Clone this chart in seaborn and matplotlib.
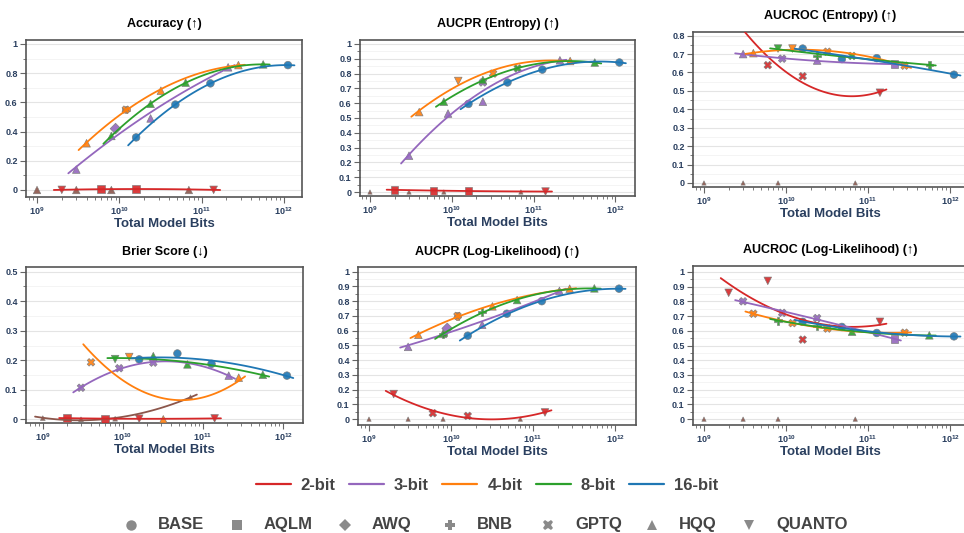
import numpy as np
import pandas as pd
import matplotlib
matplotlib.use("Agg")
import matplotlib.pyplot as plt
import seaborn as sns
from matplotlib.ticker import MultipleLocator, FixedLocator, LogLocator, NullFormatter, FuncFormatter
from matplotlib.lines import Line2D

n = np.nan

# ---- points: model size (billions of params), bit-width, quantisation method ----
params_b = [1, 3, 8, 70,
            1, 1, 3, 3, 3, 8, 8, 8, 70,
            1, 1, 3, 3, 3, 8, 8, 70, 70,
            1, 1, 3, 3, 3, 8, 8, 70, 70,
            1, 1, 1, 3, 3, 8, 8, 70, 70,
            1, 3, 8, 70]
bits = [1] * 4 + [2] * 9 + [3] * 9 + [4] * 9 + [8] * 9 + [16] * 4
methods = (["HQQ"] * 4
           + ["AQLM", "QUANTO", "AQLM", "GPTQ", "QUANTO", "AQLM", "GPTQ", "QUANTO", "QUANTO"]
           + ["HQQ", "GPTQ", "HQQ", "AWQ", "GPTQ", "HQQ", "GPTQ", "HQQ", "AQLM"]
           + ["HQQ", "GPTQ", "BNB", "GPTQ", "QUANTO", "HQQ", "GPTQ", "HQQ", "GPTQ"]
           + ["HQQ", "QUANTO", "BNB", "HQQ", "BNB", "HQQ", "GPTQ", "HQQ", "BNB"]
           + ["BASE"] * 4)

# ---- metric values (NaN = not shown) ----
accuracy = [0, 0, 0, 0,
            n, 0.001, 0.006, n, n, 0.006, n, n, 0.001,
            0.14, n, n, 0.42, n, 0.49, n, 0.84, n,
            0.32, n, 0.55, 0.55, n, 0.68, n, 0.855, n,
            0.37, n, n, 0.59, n, 0.735, n, 0.86, n,
            0.36, 0.585, 0.73, 0.855]
aucpr_entropy = [0, 0, 0, 0,
                 0.015, n, 0.008, n, n, 0.008, n, n, 0.003,
                 0.245, n, 0.53, n, n, 0.61, 0.74, 0.89, n,
                 0.54, n, n, n, 0.75, n, 0.80, 0.885, n,
                 0.61, n, n, 0.757, n, n, 0.835, 0.875, n,
                 0.595, 0.74, 0.827, 0.875]
aucroc_entropy = [0, 0, 0, 0,
                  n, 0.95, n, 0.64, n, n, 0.58, n, 0.49,
                  0.70, n, n, n, 0.675, 0.665, n, n, 0.645,
                  0.705, n, n, n, 0.73, n, 0.713, n, 0.637,
                  n, 0.73, n, n, 0.69, n, 0.69, n, 0.64,
                  0.73, 0.673, 0.678, 0.588]
brier = [0.004, 0.0, 0.002, 0.075,
         0.004, n, 0.002, n, n, n, n, 0.002, 0.003,
         n, 0.107, n, n, 0.173, n, 0.192, 0.148, n,
         n, 0.193, n, n, 0.211, 0.0, n, 0.141, n,
         n, 0.204, n, 0.214, n, 0.186, n, 0.151, n,
         0.203, 0.223, 0.188, 0.148]
aucpr_ll = [0, 0, 0, 0,
            n, 0.17, n, 0.04, n, n, 0.022, n, 0.045,
            0.49, n, n, 0.615, n, 0.64, n, 0.87, n,
            0.572, n, 0.70, 0.70, n, 0.765, n, 0.885, n,
            0.58, n, 0.575, n, 0.726, 0.808, n, 0.887, n,
            0.566, 0.715, 0.80, 0.885]
aucroc_ll = [0, 0, 0, 0,
             n, 0.858, n, n, 0.939, n, 0.54, n, 0.661,
             n, 0.80, n, n, 0.722, n, 0.686, n, 0.544,
             n, 0.716, n, 0.652, n, n, 0.615, n, 0.587,
             n, n, 0.668, n, 0.634, 0.594, n, 0.569, n,
             0.661, 0.626, 0.585, 0.562]

titles = ["Accuracy (↑)", "AUCPR (Entropy) (↑)", "AUCROC (Entropy) (↑)",
          "Brier Score (↓)", "AUCPR (Log-Likelihood) (↑)", "AUCROC (Log-Likelihood) (↑)"]
bit_labels = ["2-bit", "3-bit", "4-bit", "8-bit", "16-bit"]
method_names = ["BASE", "AQLM", "AWQ", "BNB", "GPTQ", "HQQ", "QUANTO"]

# ---- style ----
sns.set_theme(style="white")
plt.rcParams["font.family"] = ["Liberation Sans", "DejaVu Sans"]
plt.rcParams["font.weight"] = "bold"
plt.rcParams["mathtext.fontset"] = "custom"
plt.rcParams["mathtext.rm"] = "Liberation Sans:bold"
plt.rcParams["mathtext.bf"] = "Liberation Sans:bold"
plt.rcParams["mathtext.default"] = "bf"

palette = {1: "#8c564b", 2: "#d62728", 3: "#9467bd", 4: "#ff7f0e", 8: "#2ca02c", 16: "#1f77b4"}
marker_map = {"BASE": "o", "AQLM": "s", "AWQ": "D", "BNB": "P", "GPTQ": "X", "HQQ": "^", "QUANTO": "v"}
label_col = "#2a3f5f"

df = pd.DataFrame({"params": np.array(params_b) * 1e9, "bits": bits, "method": methods})
df["total_bits"] = df["params"] * df["bits"]

W, H = 964, 533
def rect(l, r, t, b):
    return [l / W, 1 - b / H, (r - l) / W, (b - t) / H]

# title, values, log10 x-range, y-range, y tick step, axes rect, size of 1-bit markers
panels = [
    (titles[0], accuracy,       (8.866, 12.22), (-0.048, 1.027), 0.2, rect(26, 302, 40, 197), 30),
    (titles[1], aucpr_entropy,  (8.878, 12.24), (-0.027, 1.027), 0.1, rect(360, 635, 40, 196), 10),
    (titles[2], aucroc_entropy, (8.866, 12.22), (-0.022, 0.82), 0.1, rect(693, 968, 32, 187), 10),
    (titles[3], brier,          (8.79, 12.25), (-0.0125, 0.516), 0.1, rect(26, 303, 267, 423), 12),
    (titles[4], aucpr_ll,       (8.866, 12.256), (-0.04, 1.032), 0.1, rect(358, 636, 267, 425), 10),
    (titles[5], aucroc_ll,      (8.866, 12.22), (-0.04, 1.04), 0.1, rect(693, 968, 266, 425), 10),
]

fig = plt.figure(figsize=(W / 100, H / 100), dpi=100)

def ylab(v, p):
    if abs(v) < 1e-9:
        return "0"
    return f"{v:g}"

for title, vals, xl, yl, ystep, r, s1 in panels:
    ax = fig.add_axes(r)
    d = df.assign(value=vals).dropna(subset=["value"])
    d_main = d[d["bits"] != 1]
    d_one = d[d["bits"] == 1]
    sns.scatterplot(data=d_one, x="total_bits", y="value", hue="bits", style="method",
                    palette=palette, markers=marker_map, s=s1, edgecolor="#7a7a7a",
                    linewidth=0.4, alpha=0.9, legend=False, ax=ax, zorder=3)
    sns.scatterplot(data=d_main, x="total_bits", y="value", hue="bits", style="method",
                    palette=palette, markers=marker_map, s=30, edgecolor="#7a7a7a",
                    linewidth=0.5, alpha=0.9, legend=False, ax=ax, zorder=3)
    rows = []
    for b, g in d.groupby("bits"):
        if g["value"].nunique() < 2:
            continue
        lx = np.log10(g["total_bits"].values)
        deg = min(2, len(np.unique(lx)) - 1)
        coef = np.polyfit(lx, g["value"].values, deg)
        grid = np.linspace(np.log10(0.8 * g["total_bits"].min()),
                           np.log10(1.2 * g["total_bits"].max()), 120)
        rows.append(pd.DataFrame({"x": 10 ** grid, "y": np.polyval(coef, grid), "bits": b}))
    fit = pd.concat(rows, ignore_index=True)
    sns.lineplot(data=fit, x="x", y="y", hue="bits", palette=palette, legend=False,
                 estimator=None, sort=False, lw=1.3, ax=ax, zorder=4)

    ax.set_xscale("log")
    ax.set_xlim(10 ** xl[0], 10 ** xl[1])
    ax.set_ylim(*yl)
    ax.xaxis.set_major_locator(FixedLocator([1e9, 1e10, 1e11, 1e12]))
    ax.xaxis.set_major_formatter(FuncFormatter(lambda v, p: f"$10^{{{int(round(np.log10(v)))}}}$"))
    ax.xaxis.set_minor_locator(LogLocator(base=10, subs=np.arange(2, 10)))
    ax.xaxis.set_minor_formatter(NullFormatter())
    ax.yaxis.set_major_locator(MultipleLocator(ystep))
    ax.yaxis.set_minor_locator(MultipleLocator(ystep / 2))
    ax.yaxis.set_major_formatter(FuncFormatter(ylab))
    ax.grid(axis="y", which="major", color="#e4e4e4", lw=0.8)
    ax.grid(axis="y", which="minor", color="#f2f2f2", lw=0.6)
    ax.grid(axis="x", visible=False)
    ax.set_axisbelow(True)
    for sp in ax.spines.values():
        sp.set_color("#555555")
        sp.set_linewidth(1.2)
    ax.tick_params(which="both", direction="out", color="#666666", labelcolor=label_col,
                   left=True, bottom=True)
    ax.tick_params(which="major", length=4, width=0.8, labelsize=6.5, pad=2)
    ax.tick_params(which="minor", length=2, width=0.6)
    ax.set_xlabel("Total Model Bits", fontsize=9.5, fontweight="bold", color=label_col, labelpad=1)
    ax.set_ylabel("")
    ax.set_title(title, fontsize=9, fontweight="bold", pad=9, color="black")

# ---- legend row 1: bit-widths ----
bit_handles = [Line2D([], [], color=palette[b], lw=1.6) for b in [2, 3, 4, 8, 16]]
fig.legend(bit_handles, bit_labels, loc="center", bbox_to_anchor=(487 / W, 1 - 485 / H),
           ncol=5, frameon=False, fontsize=12, handlelength=2.1, handletextpad=0.6,
           columnspacing=0.8, labelcolor="#444444")

# ---- legend row 2: methods (placed item by item so baselines line up) ----
marker_px = [131, 237, 345, 450, 548, 652, 749]
row_y = 1 - 525 / H
for m, mx in zip(method_names, marker_px):
    fig.add_artist(Line2D([mx / W], [row_y], transform=fig.transFigure, ls="none",
                          marker=marker_map[m], color="#8a8a8a",
                          markersize=(6 if m == "AWQ" else 7.5), markeredgewidth=0))
    fig.text((mx + 27) / W, row_y - 4.3 / H, m, fontsize=12, fontweight="bold",
             color="#444444", ha="left", va="baseline")

fig.savefig("out.png", dpi=100)
